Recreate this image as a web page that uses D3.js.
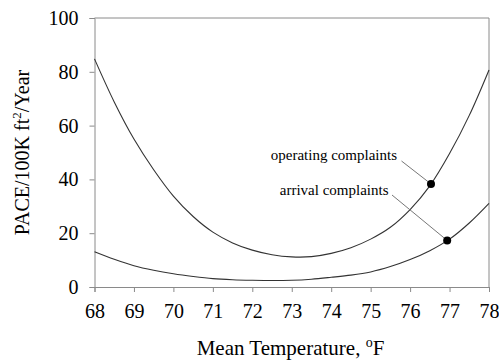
<!DOCTYPE html>
<html>
<head>
<meta charset="utf-8">
<script src="https://cdn.jsdelivr.net/npm/d3@7/dist/d3.min.js"></script>
<style>
  html, body { margin: 0; padding: 0; background: #fff; }
  svg { display: block; }
  svg text { font-family: "Liberation Serif", "Times New Roman", "DejaVu Serif", serif; }
</style>
</head>
<body>
<svg id="chart" width="499" height="360"></svg>
<script>
// Mean temperature (°F) sampled along both curves
const temps = [68, 68.5, 69, 69.5, 70, 70.5, 71, 71.5, 72, 72.5, 73, 73.5, 74, 74.5, 75, 75.5, 76, 76.5, 77, 77.5, 78];
// PACE per 100K ft² per year
const operating = [84.8, 68.8, 55.0, 43.6, 33.8, 26.2, 20.4, 16.4, 13.7, 12.0, 11.2, 11.3, 12.5, 14.6, 17.8, 22.2, 28.8, 37.6, 49.6, 63.8, 80.7];
const arrival   = [13.1, 10.3, 7.9, 6.2, 4.9, 3.9, 3.1, 2.7, 2.5, 2.4, 2.5, 2.9, 3.6, 4.4, 5.6, 7.6, 10.2, 13.5, 17.8, 23.8, 31.1];

// Highlighted points with their labels
const markerNames = ["operating complaints", "arrival complaints"];
const markerTemps = [76.53, 76.94];
const markerValues = [38.3, 17.3];

const xTicks = [68, 69, 70, 71, 72, 73, 74, 75, 76, 77, 78];
const yTicks = [0, 20, 40, 60, 80, 100];

const svg = d3.select("#chart");
const m = { left: 94.5, right: 489, top: 18, bottom: 287 };

const x = d3.scaleLinear().domain([68, 78]).range([m.left, m.right]);
const y = d3.scaleLinear().domain([0, 100]).range([m.bottom, m.top]);

const frameColor = "#8a8a8a";

// frame (top and right sides)
svg.append("path")
  .attr("d", `M${m.left},${m.top}H${m.right}V${m.bottom}`)
  .attr("fill", "none").attr("stroke", frameColor).attr("stroke-width", 1);

// x axis
const gx = svg.append("g")
  .attr("transform", `translate(0,${m.bottom})`)
  .call(d3.axisBottom(x).tickValues(xTicks).tickSize(5).tickPadding(12).tickFormat(d3.format("d")))
  .attr("font-size", 20);
gx.select(".domain").attr("stroke", frameColor);
gx.selectAll(".tick line").attr("stroke", frameColor);
gx.selectAll(".tick text").attr("fill", "#000");

// y axis
const gy = svg.append("g")
  .attr("transform", `translate(${m.left},0)`)
  .call(d3.axisLeft(y).tickValues(yTicks).tickSize(5).tickPadding(11).tickFormat(d3.format("d")))
  .attr("font-size", 20);
gy.select(".domain").attr("stroke", frameColor);
gy.selectAll(".tick line").attr("stroke", frameColor);
gy.selectAll(".tick text").attr("fill", "#000");

// axis titles
const xt = svg.append("text")
  .attr("x", 290.5).attr("y", 355)
  .attr("text-anchor", "middle").attr("font-size", 21).attr("fill", "#000");
xt.append("tspan").text("Mean Temperature, ");
xt.append("tspan").attr("dy", -8).attr("font-size", 14).text("o");
xt.append("tspan").attr("dy", 8).text("F");

const yt = svg.append("text")
  .attr("transform", "translate(29,152.5) rotate(-90)")
  .attr("text-anchor", "middle").attr("font-size", 20).attr("fill", "#000");
yt.append("tspan").text("PACE/100K ft");
yt.append("tspan").attr("dy", -8).attr("font-size", 13).text("2");
yt.append("tspan").attr("dy", 8).text("/Year");

// curves
const line = d3.line()
  .x((d, i) => x(temps[i]))
  .y(d => y(d))
  .curve(d3.curveCatmullRom.alpha(0.5));

[operating, arrival].forEach(series => {
  svg.append("path")
    .datum(series)
    .attr("d", line)
    .attr("fill", "none")
    .attr("stroke", "#333")
    .attr("stroke-width", 1.1);
});

// labels, leader lines and markers
const labelPos = [
  { tx: 397, ty: 160, lx: 401.5, ly: 161 },
  { tx: 388.5, ty: 194.5, lx: 392, ly: 195 }
];
markerNames.forEach((name, i) => {
  const px = x(markerTemps[i]), py = y(markerValues[i]);
  const p = labelPos[i];
  svg.append("line")
    .attr("x1", p.lx).attr("y1", p.ly).attr("x2", px).attr("y2", py)
    .attr("stroke", "#777").attr("stroke-width", 1);
  svg.append("text")
    .attr("x", p.tx).attr("y", p.ty)
    .attr("text-anchor", "end").attr("font-size", 15).attr("fill", "#000")
    .text(name);
  svg.append("circle")
    .attr("cx", px).attr("cy", py).attr("r", 4).attr("fill", "#000");
});
</script>
</body>
</html>
